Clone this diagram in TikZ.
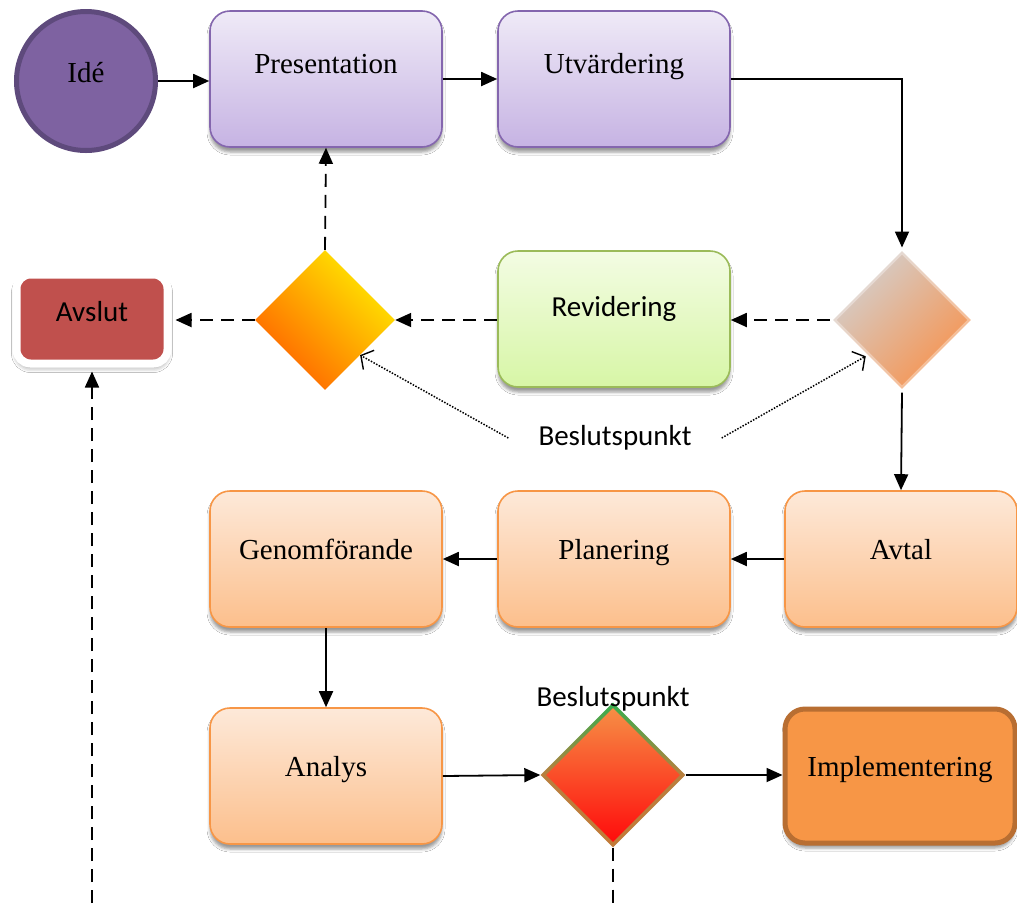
\documentclass[tikz,border=0pt]{standalone}
\usepackage{fontspec}
\setmainfont{Liberation Serif}
\newfontfamily\calib{Carlito}
\usetikzlibrary{shapes.geometric, arrows.meta, shadows.blur, calc}

\definecolor{purpletop}{HTML}{EFEAF7}
\definecolor{purplebot}{HTML}{C6B3E3}
\definecolor{purpleline}{HTML}{8466AE}
\definecolor{orangetop}{HTML}{FDE9D9}
\definecolor{orangebot}{HTML}{FCBF8C}
\definecolor{orangeline}{HTML}{F79646}
\definecolor{greentop}{HTML}{F3FCE3}
\definecolor{greenbot}{HTML}{D7F6A6}
\definecolor{greenline}{HTML}{9BBB59}
\definecolor{idefill}{HTML}{7E62A1}
\definecolor{ideline}{HTML}{5E4A7C}
\definecolor{avslutfill}{HTML}{C0504D}
\definecolor{implfill}{HTML}{F79646}
\definecolor{implline}{HTML}{B86E32}
\definecolor{grayfrom}{HTML}{D3CFCD}
\definecolor{orangeto}{HTML}{F7934F}
\definecolor{yellowfrom}{HTML}{FFEA00}
\definecolor{orangedeep}{HTML}{FF6200}
\definecolor{rimgreen}{HTML}{35AE4E}
\definecolor{rimbrown}{HTML}{C27A38}
\definecolor{rimmid}{HTML}{B97F3E}
\definecolor{redtop}{HTML}{F68E45}
\definecolor{redbot}{HTML}{FF0C0C}

\begin{document}
\begin{tikzpicture}[x=1pt, y=-1pt,
  serifbig/.style={font=\fontsize{29}{33}\selectfont},
  sansbig/.style={font=\calib\fontsize{29}{33}\selectfont},
  boxshadow/.style={blur shadow={shadow xshift=0pt, shadow yshift=-5pt,
      shadow blur radius=3pt, shadow opacity=40}},
  procbox/.style={rectangle, rounded corners=20pt, minimum width=232pt,
      minimum height=136pt, inner sep=0pt, line width=1.6pt,
      text height=20pt, boxshadow},
  purplebox/.style={procbox, serifbig, draw=purpleline,
      top color=purpletop, bottom color=purplebot, text depth=32pt},
  orangebox/.style={procbox, serifbig, draw=orangeline,
      top color=orangetop, bottom color=orangebot, text depth=20pt},
  greenbox/.style={procbox, sansbig, draw=greenline,
      top color=greentop, bottom color=greenbot, text depth=26pt},
  decision/.style={diamond, aspect=1, minimum width=140pt,
      minimum height=140pt, inner sep=0pt},
  arr/.style={line width=1.8pt, -{Triangle[length=16pt,width=14pt]}},
  darr/.style={arr, dash pattern=on 13pt off 8pt},
  dline/.style={line width=1.8pt, dash pattern=on 13pt off 8pt},
  dotarr/.style={line width=1.5pt, dash pattern=on 1.5pt off 1.5pt,
      -{Straight Barb[length=9pt,width=22pt,line width=1.4pt]}},
]
\useasboundingbox (0,0) rectangle (1017,903);
\fill[white] (0,0) rectangle (1017,903);

% start circle
\node[circle, minimum size=139pt, inner sep=0pt, fill=idefill,
      draw=ideline, line width=5pt, serifbig, text height=20pt,
      text depth=18pt] (ide) at (86,81) {Idé};

% top row
\node[purplebox] (pres) at (326,79) {Presentation};
\node[purplebox] (utv)  at (614,79) {Utvärdering};

% decision row
\node[decision, top color=grayfrom, bottom color=orangeto,
      shading angle=45, draw=white, draw opacity=0.35, line width=5pt]
      (dr) at (902,320) {};
\node[greenbox] (rev) at (614,319) {Revidering};
\node[decision, top color=yellowfrom, bottom color=orangedeep,
      shading angle=-45] (dy) at (325,320) {};
\node[rectangle, rounded corners=14pt, minimum width=151pt,
      minimum height=89pt, inner sep=0pt, fill=avslutfill, draw=white,
      line width=8pt, sansbig, text height=20pt, text depth=15pt,
      blur shadow={shadow xshift=0pt, shadow yshift=-4pt,
      shadow blur radius=5pt, shadow opacity=45}]
      (av) at (92,319) {Avslut};

\node[sansbig, inner xsep=30pt] (lbl1) at (615,438) {Beslutspunkt};

% third row
\node[orangebox] (avtal) at (901,559) {Avtal};
\node[orangebox] (plan)  at (614,559) {Planering};
\node[orangebox] (gen)   at (326,559) {Genomförande};

% bottom row
\node[orangebox] (ana) at (326,776) {Analys};
\node[decision, minimum width=145pt, minimum height=145pt,
      top color=rimgreen, bottom color=rimbrown,
      middle color=rimmid] (dx) at (613,775) {};
\node[decision, minimum width=134pt, minimum height=134pt,
      top color=redtop, bottom color=redbot] (dxin) at (613,775) {};
\node[sansbig, anchor=base] (lbl2) at (613,706) {Beslutspunkt};
\node[rectangle, rounded corners=20pt, minimum width=230pt,
      minimum height=134pt, inner sep=0pt, fill=implfill, draw=implline,
      line width=5pt, serifbig, text height=20pt, text depth=20pt,
      boxshadow] (impl) at (900,776) {Implementering};

% loose ends of the open connectors
\coordinate (avfoot) at (92,903);
\coordinate (dxfoot) at (613,903);

% connectors
\draw[arr] (ide.east) -- (ide.east -| pres.west);
\draw[arr] (pres) -- (utv);
\draw[arr] (utv.east) -| (dr.north);
\draw[darr] (dr.west) -- (dr.west -| rev.east);
\draw[darr] (rev.west |- dy.east) -- (dy.east);
\draw[darr] (dy.north) -- (pres.south);
\draw[darr, shorten >=4pt] (dy.west) -- (dy.west -| av.east);
\draw[arr] (dr.south) -- (avtal.north);
\draw[arr] (avtal) -- (plan);
\draw[arr] (plan) -- (gen);
\draw[arr] (gen) -- (ana);
\draw[arr] (ana.east) -- (dx.west);
\draw[arr] (dx.east) -- (dx.east -| impl.west);
\draw[dline] (dx.south) -- (dxfoot);
\draw[darr, shorten >=4pt] (avfoot) -- (av.south);
\draw[dotarr] (lbl1.west) -- ($(dy.east)!0.5!(dy.south)$);
\draw[dotarr] (lbl1.east) -- ($(dr.west)!0.5!(dr.south)$);
\end{tikzpicture}
\end{document}
